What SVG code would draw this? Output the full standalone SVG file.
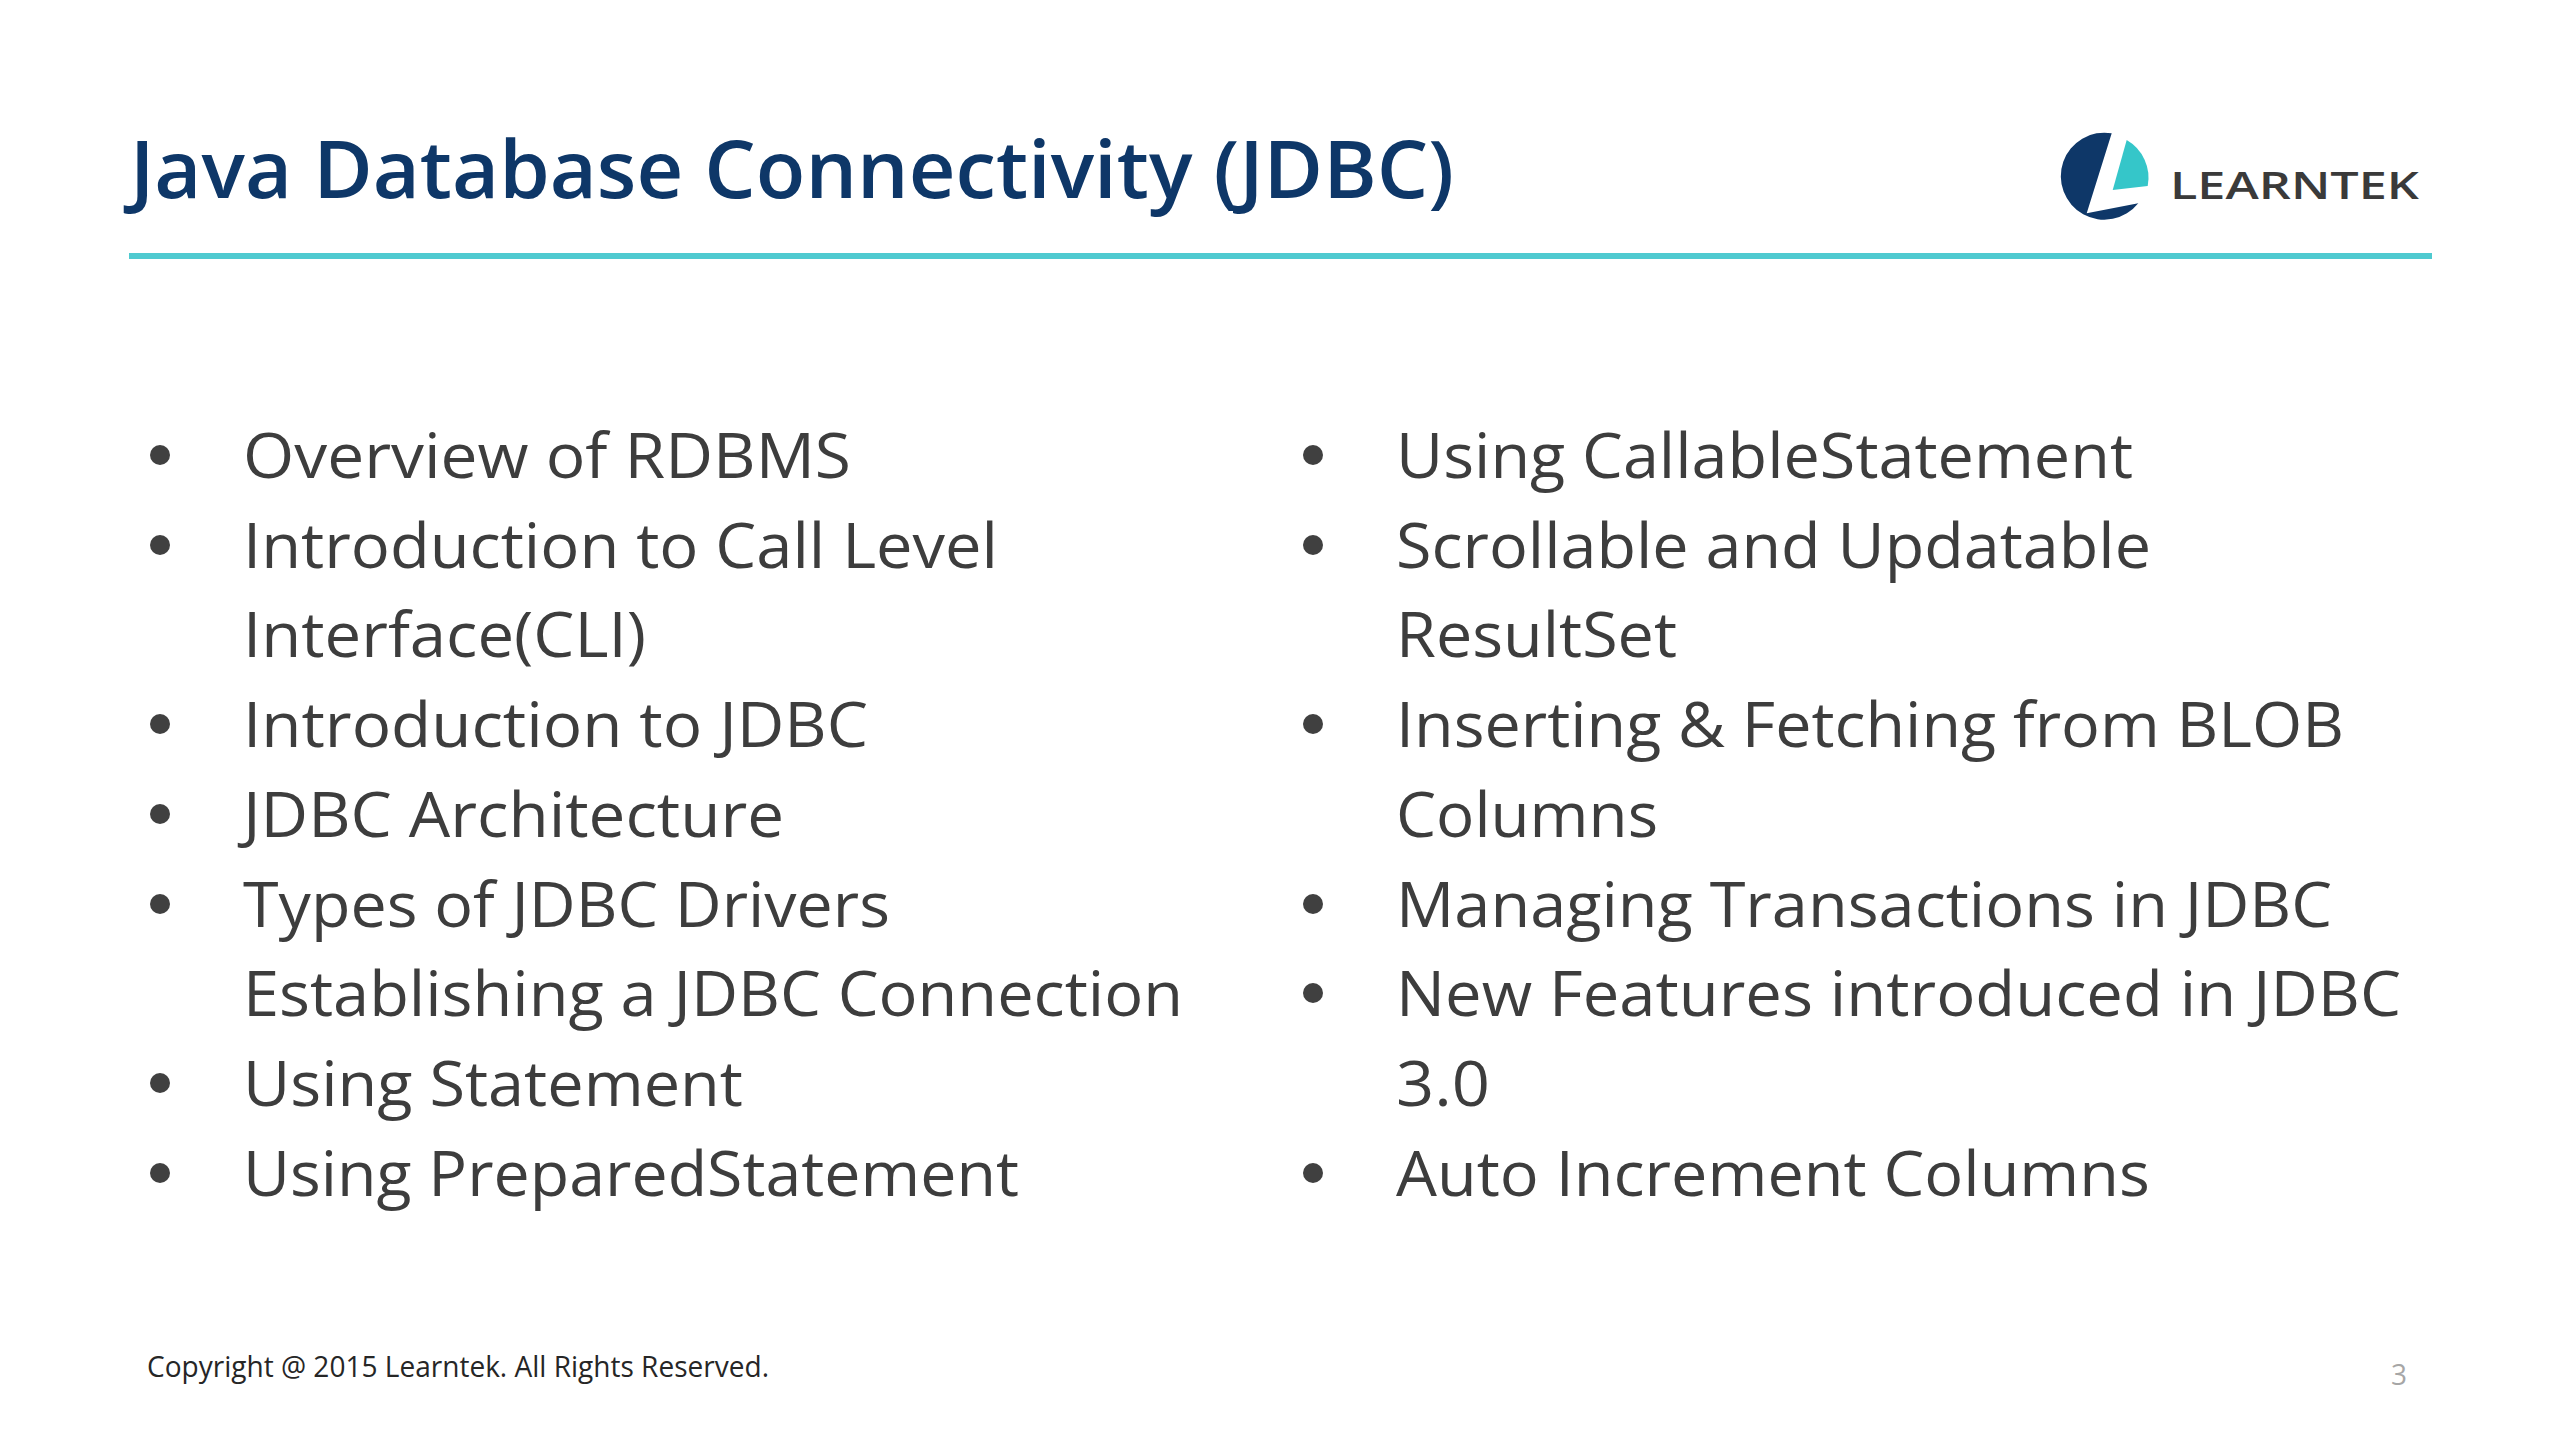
<svg xmlns="http://www.w3.org/2000/svg" width="2560" height="1440" viewBox="0 0 2560 1440">
<style>
text{font-family:"Open Sans","Noto Sans","Liberation Sans",sans-serif}
.t{font-size:79px;font-weight:600;fill:#0e3768}
.b{font-size:62px;fill:#3d3d3d}
.d{fill:#404040}
.c{font-size:30px;fill:#262626}
.n{font-size:30px;fill:#a6a6a6}
.l{font-size:38px;font-weight:600;fill:#3a3a3a}
</style>
<rect width="2560" height="1440" fill="#ffffff"/>
<g id="header">
<text class="t" x="130" y="198" textLength="1324" lengthAdjust="spacingAndGlyphs">Java Database Connectivity (JDBC)</text>
<rect x="129" y="253" width="2303" height="6" fill="#4fcad0"/>
</g>
<g id="logo">
<path d="M2111.7 133.3A43.5 43.5 0 1 0 2138.3 203.3L2086.7 213.3Z" fill="#0e3768"/>
<path d="M2126.7 140A43.5 43.5 0 0 1 2147.7 186L2112.7 190Z" fill="#35c6c9"/>
<text class="l" x="2170" y="199" textLength="249" lengthAdjust="spacingAndGlyphs">LEARNTEK</text>
</g>
<g id="left-list">
<circle class="d" cx="160" cy="455" r="10"/><text class="b" x="243" y="478" textLength="608" lengthAdjust="spacingAndGlyphs">Overview of RDBMS</text>
<circle class="d" cx="160" cy="545" r="10"/><text class="b" x="243" y="568" textLength="755" lengthAdjust="spacingAndGlyphs">Introduction to Call Level</text>
<text class="b" x="243" y="657" textLength="403" lengthAdjust="spacingAndGlyphs">Interface(CLI)</text>
<circle class="d" cx="160" cy="724" r="10"/><text class="b" x="243" y="747" textLength="625" lengthAdjust="spacingAndGlyphs">Introduction to JDBC</text>
<circle class="d" cx="160" cy="814" r="10"/><text class="b" x="243" y="837" textLength="541" lengthAdjust="spacingAndGlyphs">JDBC Architecture</text>
<circle class="d" cx="160" cy="904" r="10"/><text class="b" x="243" y="927" textLength="647" lengthAdjust="spacingAndGlyphs">Types of JDBC Drivers</text>
<text class="b" x="243" y="1016" textLength="940" lengthAdjust="spacingAndGlyphs">Establishing a JDBC Connection</text>
<circle class="d" cx="160" cy="1083" r="10"/><text class="b" x="243" y="1106" textLength="500" lengthAdjust="spacingAndGlyphs">Using Statement</text>
<circle class="d" cx="160" cy="1173" r="10"/><text class="b" x="243" y="1196" textLength="776" lengthAdjust="spacingAndGlyphs">Using PreparedStatement</text>
</g>
<g id="right-list">
<circle class="d" cx="1313" cy="455" r="10"/><text class="b" x="1396" y="478" textLength="737" lengthAdjust="spacingAndGlyphs">Using CallableStatement</text>
<circle class="d" cx="1313" cy="545" r="10"/><text class="b" x="1396" y="568" textLength="755" lengthAdjust="spacingAndGlyphs">Scrollable and Updatable</text>
<text class="b" x="1396" y="657" textLength="281" lengthAdjust="spacingAndGlyphs">ResultSet</text>
<circle class="d" cx="1313" cy="724" r="10"/><text class="b" x="1396" y="747" textLength="948" lengthAdjust="spacingAndGlyphs">Inserting &amp; Fetching from BLOB</text>
<text class="b" x="1396" y="837" textLength="262" lengthAdjust="spacingAndGlyphs">Columns</text>
<circle class="d" cx="1313" cy="904" r="10"/><text class="b" x="1396" y="927" textLength="936" lengthAdjust="spacingAndGlyphs">Managing Transactions in JDBC</text>
<circle class="d" cx="1313" cy="993" r="10"/><text class="b" x="1396" y="1016" textLength="1005" lengthAdjust="spacingAndGlyphs">New Features introduced in JDBC</text>
<text class="b" x="1396" y="1106" textLength="94" lengthAdjust="spacingAndGlyphs">3.0</text>
<circle class="d" cx="1313" cy="1173" r="10"/><text class="b" x="1396" y="1196" textLength="754" lengthAdjust="spacingAndGlyphs">Auto Increment Columns</text>
</g>
<g id="footer">
<text class="c" x="147" y="1377" textLength="622" lengthAdjust="spacingAndGlyphs">Copyright @ 2015 Learntek. All Rights Reserved.</text>
<text class="n" x="2391" y="1385" textLength="16" lengthAdjust="spacingAndGlyphs">3</text>
</g>
</svg>
